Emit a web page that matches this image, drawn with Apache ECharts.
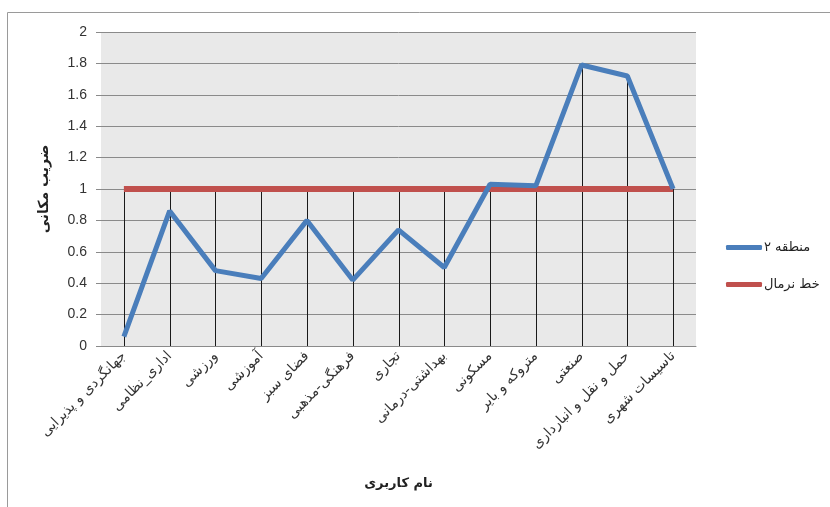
<!DOCTYPE html>
<html>
<head>
<meta charset="utf-8">
<script src="https://cdn.jsdelivr.net/npm/echarts@6/dist/echarts.min.js"></script>
<style>
  html, body { margin: 0; padding: 0; background: #fff; }
  #chart { width: 830px; height: 507px; }
</style>
</head>
<body>
<div id="chart"></div>
<script>
// Land-use categories (x axis)
const categories = [
  'جهانگردی و پذیرایی',
  'اداری_نظامی',
  'ورزشی',
  'آموزشی',
  'فضای سبز',
  'فرهنگی-مذهبی',
  'تجاری',
  'بهداشتی-درمانی',
  'مسکونی',
  'متروکه و بایر',
  'صنعتی',
  'حمل و نقل و انبارداری',
  'تاسیسات شهری'
];

// Location quotient for region 2
const region2 = [0.06, 0.86, 0.48, 0.43, 0.80, 0.42, 0.74, 0.50, 1.03, 1.02, 1.79, 1.72, 1.00];

// Reference (normal) line
const normalLine = [1, 1, 1, 1, 1, 1, 1, 1, 1, 1, 1, 1, 1];

const seriesNames = ['منطقه ۲', 'خط نرمال'];

// Drop lines run from the higher of the two series down to the axis
const dropTops = categories.map((c, i) => [i, Math.max(region2[i], normalLine[i])]);

const faFont = '"DejaVu Sans", "Noto Sans", sans-serif';
const numFont = '"Liberation Sans", "Open Sans", sans-serif';

const chart = echarts.init(document.getElementById('chart'));
chart.setOption({
  backgroundColor: '#ffffff',
  animation: false,
  graphic: [{
    type: 'rect',
    shape: { x: 7.5, y: 12.5, width: 840, height: 520 },
    style: { fill: 'none', stroke: '#9a9a9a', lineWidth: 1 },
    silent: true,
    z: -1
  }],
  grid: {
    left: 101, right: 134, top: 32, bottom: 161,
    show: true,
    backgroundColor: '#e9e9e9',
    borderWidth: 0
  },
  legend: {
    orient: 'vertical',
    left: 721,
    top: 236,
    itemWidth: 36,
    itemHeight: 5,
    itemGap: 24,
    icon: 'roundRect',
    data: seriesNames,
    textStyle: { fontFamily: faFont, fontSize: 13, color: '#222', padding: [0, 0, 0, -3] }
  },
  xAxis: {
    type: 'category',
    data: categories,
    boundaryGap: true,
    name: 'نام کاربری',
    nameLocation: 'middle',
    nameGap: 131,
    nameTextStyle: { fontFamily: faFont, fontSize: 13, fontWeight: 'bold', color: '#222' },
    axisLine: { show: true, lineStyle: { color: '#8a8a8a', width: 1 } },
    axisTick: { show: false },
    splitLine: { show: false },
    axisLabel: {
      rotate: 45,
      interval: 0,
      margin: 8,
      fontFamily: faFont,
      fontSize: 14,
      color: '#333'
    }
  },
  yAxis: {
    type: 'value',
    min: 0,
    max: 2,
    interval: 0.2,
    name: 'ضریب مکانی',
    nameLocation: 'middle',
    nameRotate: 90,
    nameGap: 50,
    nameTextStyle: { fontFamily: faFont, fontSize: 14, fontWeight: 'bold', color: '#222' },
    axisLine: { show: false },
    axisTick: { show: true, length: 5, lineStyle: { color: '#8a8a8a' } },
    splitLine: { show: true, lineStyle: { color: '#8a8a8a', width: 1 } },
    axisLabel: {
      margin: 14,
      fontFamily: numFont,
      fontSize: 14,
      color: '#333'
    }
  },
  series: [
    {
      name: 'drop',
      type: 'custom',
      data: dropTops,
      silent: true,
      z: 1,
      renderItem: function (params, api) {
        const top = api.coord([api.value(0), api.value(1)]);
        const bottom = api.coord([api.value(0), 0]);
        const x = Math.round(top[0]) + 0.5;
        return {
          type: 'line',
          shape: { x1: x, y1: top[1], x2: x, y2: bottom[1] },
          style: { stroke: '#1a1a1a', lineWidth: 1 }
        };
      }
    },
    {
      name: seriesNames[0],
      type: 'line',
      data: region2,
      symbol: 'none',
      z: 3,
      lineStyle: { color: '#4a7ebb', width: 5 },
      itemStyle: { color: '#4a7ebb' }
    },
    {
      name: seriesNames[1],
      type: 'line',
      data: normalLine,
      symbol: 'none',
      z: 2,
      lineStyle: { color: '#c0504d', width: 6 },
      itemStyle: { color: '#c0504d' }
    }
  ]
});
</script>
</body>
</html>
